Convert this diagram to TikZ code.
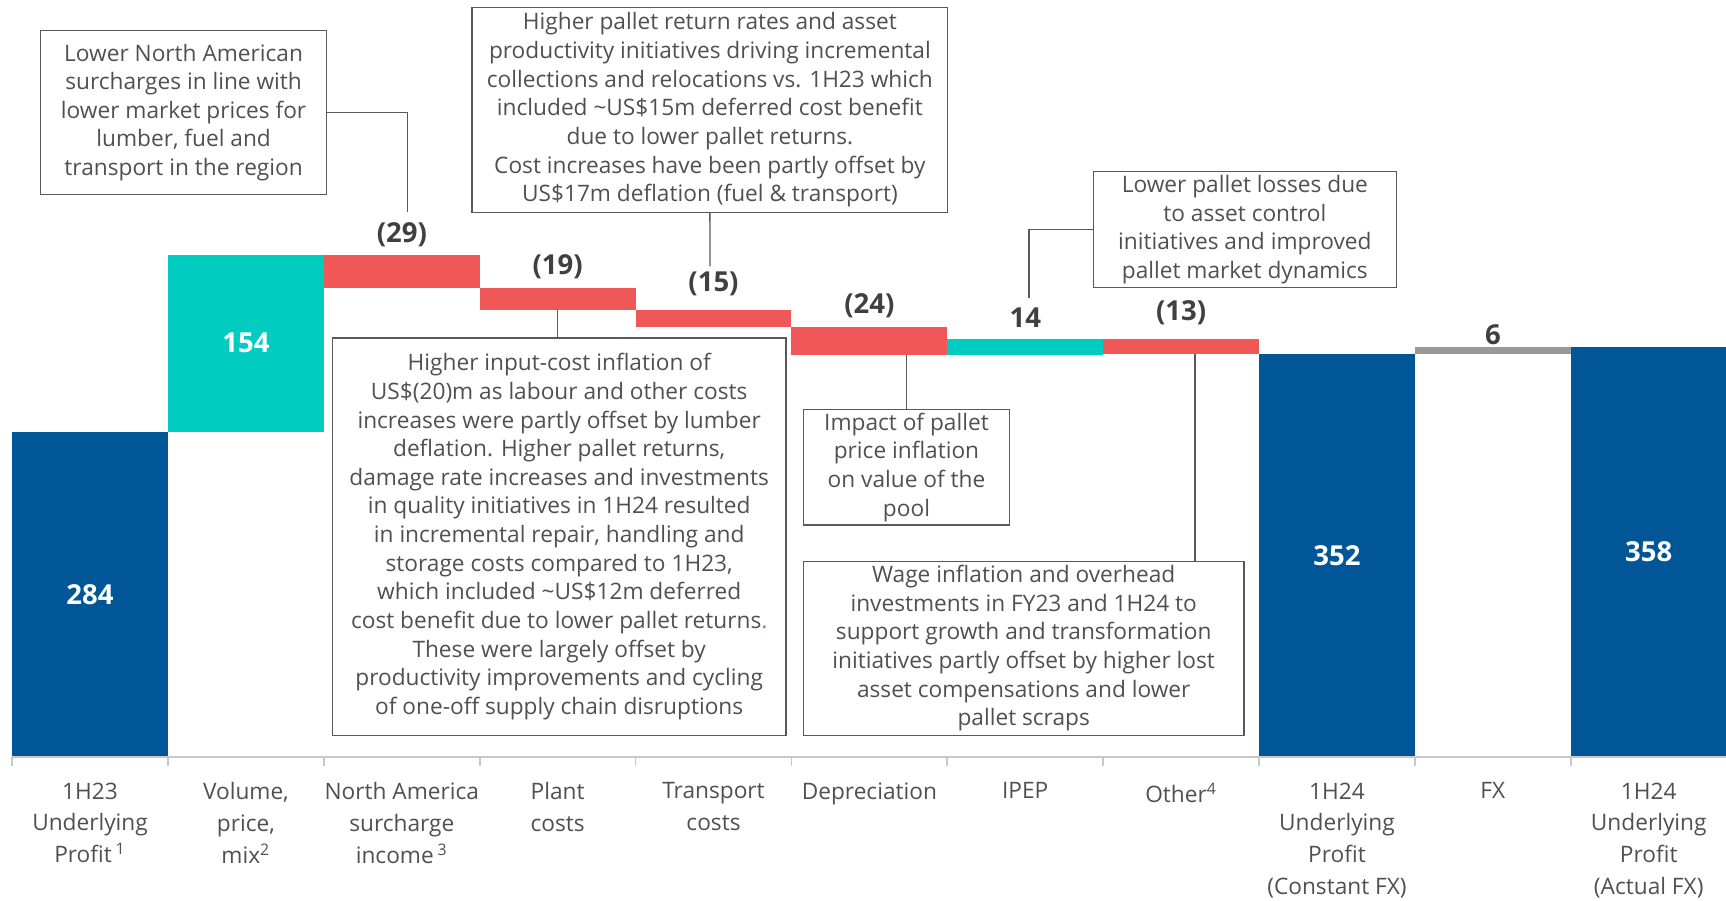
\documentclass[tikz,border=0pt]{standalone}
\usepackage{fontspec}
\setmainfont{Open Sans}
\usetikzlibrary{calc}
\definecolor{upblue}{RGB}{0,86,150}
\definecolor{upteal}{RGB}{0,204,192}
\definecolor{upred}{RGB}{240,88,88}
\definecolor{upgray}{RGB}{153,153,153}
\definecolor{notetext}{RGB}{80,80,80}
\definecolor{valtext}{RGB}{64,64,64}
\definecolor{linegray}{RGB}{89,89,89}
\definecolor{axisgray}{RGB}{200,200,200}
\tikzstyle{bar}=[rectangle,draw=none,inner sep=0pt,minimum width=70.8pt]
\tikzstyle{note}=[rectangle,draw=linegray,line width=0.6pt,inner sep=0pt,align=center,text=notetext,font=\fontsize{10.3}{13}\selectfont]
\tikzstyle{value}=[text=valtext,font=\fontsize{12.5}{15}\selectfont\bfseries]
\tikzstyle{inval}=[text=white,font=\fontsize{12.5}{15}\selectfont\bfseries]
\tikzstyle{cat}=[anchor=north,align=center,text=notetext,font=\fontsize{10.3}{14.4}\selectfont]
\tikzstyle{leader}=[draw=linegray,line width=0.6pt]

\begin{document}
\begin{tikzpicture}[x=0.5pt,y=0.5pt]
   \useasboundingbox (0,-130) rectangle (1568,688);

    % bars of the bridge
    \foreach \i/\lo/\hi/\col/\name in {0/0/284/upblue/b0,1/284/438/upteal/b1,2/409/438/upred/b2,
        3/390/409/upred/b3,4/375/390/upred/b4,5/351/375/upred/b5,6/351/365/upteal/b6,
        7/352/365/upred/b7,8/0/352/upblue/b8,9/352/358/upgray/b9,10/0/358/upblue/b10} {
        \pgfmathsetmacro\xc{11+141.6*(\i+0.5)}
        \pgfmathsetmacro\yc{(\lo+\hi)/2*1.042}
        \pgfmathsetmacro\hh{(\hi-\lo)*0.521}
        \node[bar,fill=\col,minimum height=\hh pt] (\name) at (\xc,\yc) {};
    }

    % values
    \foreach \name/\label in {b0/284,b1/154,b8/352,b10/358}
        \node[inval] (v\name) at (\name) {\label};
    \foreach \i/\y/\label in {2/474.4/{(29)},3/445.6/{(19)},4/430.4/{(15)},5/410.7/{(24)},
        6/399/{14},7/403.5/{(13)},9/383.5/{6}} {
        \pgfmathsetmacro\xc{11+141.6*(\i+0.5)}
        \node[value] (v\i) at (\xc,\y) {\label};
    }

    % axis and ticks
    \draw[axisgray,line width=1pt] (11,0) -- (1568,0);
    \foreach \k in {0,...,11}
        \draw[axisgray,line width=0.8pt] (11+141.6*\k,0) -- (11+141.6*\k,-8);

    % categories
    \foreach \i/\label in {0/{1H23\\Underlying\\Profit\,\textsuperscript{1}},1/{Volume,\\price,\\mix\textsuperscript{2}},
        2/{North America\\surcharge\\income\,\textsuperscript{3}},3/{Plant\\costs},4/{Transport\\costs},
        5/{Depreciation},6/{IPEP},7/{Other\textsuperscript{4}},8/{1H24\\Underlying\\Profit\\(Constant FX)},
        9/{FX},10/{1H24\\Underlying\\Profit\\(Actual FX)}} {
        \pgfmathsetmacro\xc{11+141.6*(\i+0.5)}
        \node[cat] (k\i) at (\xc,-16) {\label};
    }

    % notes
    \node[note,minimum width=129.75pt,minimum height=74.25pt] (nA) at (166.8,585.8)
        {Lower North American\\surcharges in line with\\lower market prices for\\lumber, fuel and\\transport in the region};
    \node[note,minimum width=216.1pt,minimum height=92.85pt] (nB) at (644.9,588.1)
        {Higher pallet return rates and asset\\productivity initiatives driving incremental\\collections and relocations vs. 1H23 which\\included \textasciitilde US\$15m deferred cost benefit\\due to lower pallet returns.\\Cost increases have been partly offset by\\US\$17m deflation (fuel \& transport)};
    \node[note,minimum width=206pt,minimum height=180.5pt] (nC) at (508,200.5)
        {Higher input-cost inflation of\\US\$(20)m as labour and other costs\\increases were partly offset by lumber\\deflation. Higher pallet returns,\\damage rate increases and investments\\in quality initiatives in 1H24 resulted\\in incremental repair, handling and\\storage costs compared to 1H23,\\which included \textasciitilde US\$12m deferred\\cost benefit due to lower pallet returns\textcolor{upred}{.}\\These were largely offset by\\productivity improvements and cycling\\of one-off supply chain disruptions};
    \node[note,minimum width=137.6pt,minimum height=52.6pt] (nD) at (1130.9,479.4)
        {Lower pallet losses due\\to asset control\\initiatives and improved\\pallet market dynamics};
    \node[note,minimum width=93.5pt,minimum height=52.5pt] (nE) at (823.5,263.5)
        {Impact of pallet\\price inflation\\on value of the\\pool};
    \node[note,minimum width=200pt,minimum height=79pt] (nF) at (930,99)
        {Wage inflation and overhead\\investments in FY23 and 1H24 to\\support growth and transformation\\initiatives partly offset by higher lost\\asset compensations and lower\\pallet scraps};

    % leader lines
    \coordinate (c29) at (370.3,495.6);
    \coordinate (c15) at (645,446);
    \coordinate (c14) at (934.8,417.7);
    \coordinate (tF) at ($(nF.north)+(155.5,0)$);
    \draw[leader] (nA.east) -| (c29);
    \draw[leader] (nB.south) -- (c15);
    \draw[leader] (b3.south) -- (b3.south |- nC.north);
    \draw[leader] (nD.west) -| (c14);
    \draw[leader] (nE.north) -- (nE.north |- b5.south);
    \draw[leader] (tF) -- (tF |- b7.south);

\end{tikzpicture}
\end{document}
